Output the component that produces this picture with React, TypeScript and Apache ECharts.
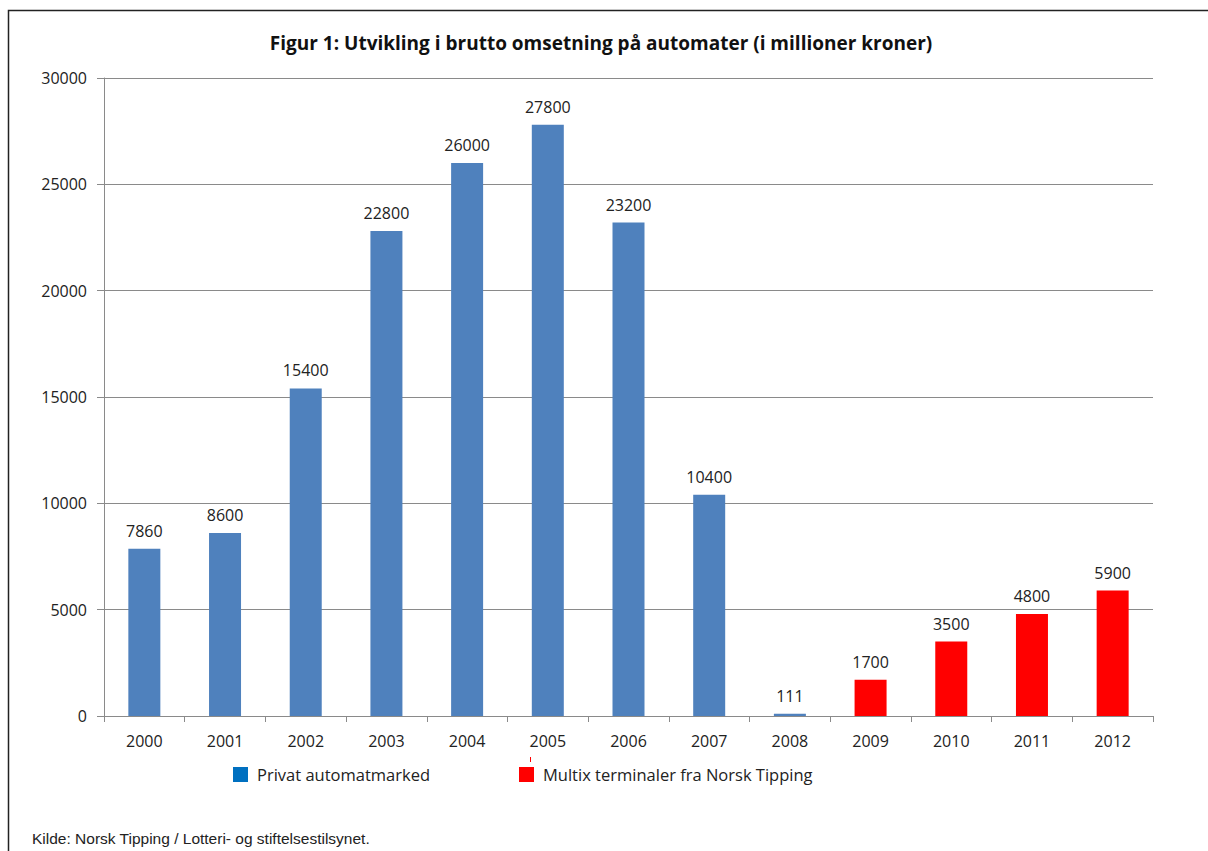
import React, { useEffect, useRef } from "react";
import * as echarts from "echarts";

const years = ["2000", "2001", "2002", "2003", "2004", "2005", "2006", "2007", "2008", "2009", "2010", "2011", "2012"];
const privat = [7860, 8600, 15400, 22800, 26000, 27800, 23200, 10400, 111, null, null, null, null];
const multix = [null, null, null, null, null, null, null, null, null, 1700, 3500, 4800, 5900];
const seriesNames = ["Privat automatmarked", "Multix terminaler fra Norsk Tipping"];
const titleText = "Figur 1: Utvikling i brutto omsetning på automater (i millioner kroner)";
const sourceText = "Kilde: Norsk Tipping / Lotteri- og stiftelsestilsynet.";

const FONT = "'Open Sans', sans-serif";

export default function App() {
  const ref = useRef<HTMLDivElement>(null);
  useEffect(() => {
    if (!ref.current) return;
    const chart = echarts.init(ref.current, null, { renderer: "svg" });
    const label = {
      show: true,
      position: "top" as const,
      distance: 10,
      color: "#222",
      fontFamily: FONT,
      fontSize: 16,
    };
    chart.setOption({
      animation: false,
      backgroundColor: "#fff",
      title: {
        text: titleText,
        left: 596,
        top: 28,
        textAlign: "center",
        textStyle: { fontFamily: FONT, fontWeight: "bold", fontSize: 19, color: "#111" },
      },
      legend: [
        {
          data: [{ name: seriesNames[0], itemStyle: { color: "#0070C0" } }],
          left: 228,
          top: 761,
          itemWidth: 15,
          itemHeight: 15,
          icon: "rect",
          selectedMode: false,
          textStyle: { fontFamily: FONT, fontSize: 16.5, color: "#222", padding: [0, 0, 0, 4] },
        },
        {
          data: [{ name: seriesNames[1], itemStyle: { color: "#FF0000" } }],
          left: 514,
          top: 761,
          itemWidth: 15,
          itemHeight: 15,
          icon: "rect",
          selectedMode: false,
          textStyle: { fontFamily: FONT, fontSize: 16.5, color: "#222", padding: [0, 0, 0, 4] },
        },
      ],
      grid: { left: 104, top: 78, right: 55, bottom: 135, containLabel: false },
      xAxis: {
        type: "category",
        data: years,
        axisLine: { show: true, lineStyle: { color: "#8a8a8a", width: 1 } },
        axisTick: { show: true, length: 6, alignWithLabel: false, lineStyle: { color: "#8a8a8a" } },
        axisLabel: { color: "#222", fontFamily: FONT, fontSize: 16, margin: 17 },
      },
      yAxis: {
        type: "value",
        min: 0,
        max: 30000,
        interval: 5000,
        axisLine: { show: true, lineStyle: { color: "#8a8a8a", width: 1 } },
        axisTick: { show: true, length: 7, lineStyle: { color: "#8a8a8a" } },
        axisLabel: {
          color: "#222",
          fontFamily: FONT,
          fontSize: 16,
          margin: 17,
          formatter: (v: number) => String(v),
        },
        splitLine: { show: true, lineStyle: { color: "#8a8a8a", width: 1 } },
      },
      series: [
        {
          name: seriesNames[0],
          type: "bar",
          stack: "total",
          data: privat,
          barWidth: 32,
          itemStyle: { color: "#4F81BD" },
          label,
        },
        {
          name: seriesNames[1],
          type: "bar",
          stack: "total",
          data: multix,
          barWidth: 32,
          itemStyle: { color: "#FF0000" },
          label,
        },
      ],
      graphic: [
        {
          type: "rect",
          shape: { x: 8.5, y: 10.5, width: 1400, height: 1000 },
          style: { fill: "none", stroke: "#222", lineWidth: 1.5 },
          silent: true,
        },
        {
          type: "rect",
          shape: { x: 530, y: 757, width: 1, height: 5 },
          style: { fill: "#FF0000" },
          silent: true,
        },
        {
          type: "text",
          x: 32,
          y: 838,
          style: {
            text: sourceText,
            fontFamily: "'Liberation Sans', Arial, sans-serif",
            fontSize: 15.5,
            fill: "#222",
            textVerticalAlign: "middle",
          },
        },
      ],
    });
    return () => chart.dispose();
  }, []);
  return (
    <div
      ref={ref}
      style={{ position: "fixed", left: 0, top: 0, width: 1208, height: 851 }}
    />
  );
}
